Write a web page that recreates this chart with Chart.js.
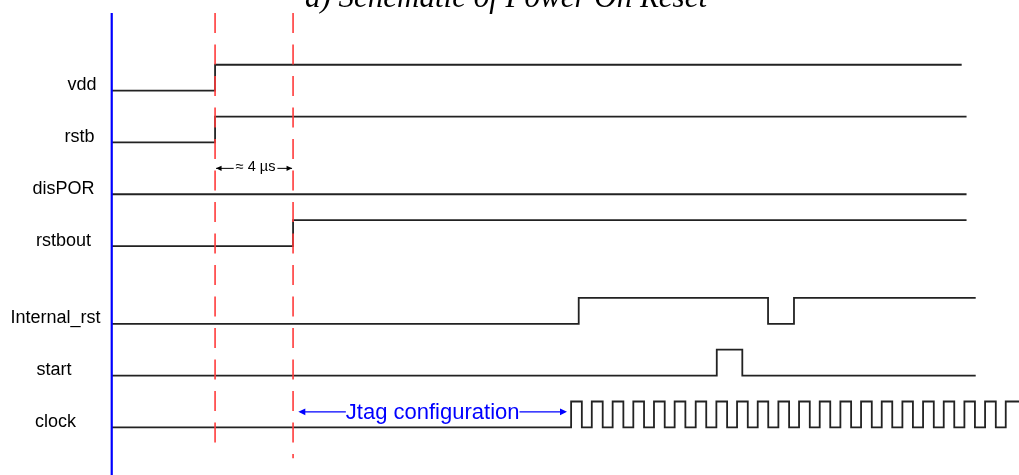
<!DOCTYPE html>
<html lang="en">
<head>
<meta charset="utf-8">
<title>Power On Reset timing</title>
<script src="https://cdn.jsdelivr.net/npm/chart.js@4.4.1/dist/chart.umd.min.js"></script>
<style>
    html, body { margin: 0; padding: 0; background: #fff; overflow: hidden; }
    .por-wrap { width: 1019px; height: 475px; }
</style>
</head>
<body>
<div class="por-wrap"><canvas id="porChart" width="1019" height="475"></canvas></div>
<script>
// time in µs (0 = vdd ramp), lanes counted up from the clock row
const chartTitle = 'a) Schematic of Power On Reset';
const signalNames = ['vdd', 'rstb', 'disPOR', 'rstbout', 'Internal_rst', 'start', 'clock'];
const signalLanes = [14, 12, 10, 8, 5, 3, 1];
const traceStart = -5.3;
const traceEnds = [38.29, 38.54, 38.54, 38.54, 39.01, 39.01, 41.6];

// toggle times, every trace starts low
const vddEdges = [0];
const rstbEdges = [0];
const disporEdges = [];
const rstboutEdges = [4];
const internalRstEdges = [18.65, 28.36, 29.69];
const startEdges = [25.73, 27.04];
const clockEdges = [
    18.26, 18.81, 19.32, 19.88, 20.39, 20.94, 21.45, 22.00, 22.51, 23.06, 23.57, 24.12,
    24.65, 25.19, 25.71, 26.26, 26.77, 27.32, 27.83, 28.37, 28.89, 29.44, 29.95, 30.50,
    31.01, 31.55, 32.07, 32.62, 33.13, 33.68, 34.19, 34.73, 35.25, 35.79, 36.31, 36.86,
    37.37, 37.91, 38.43, 38.97, 39.49, 40.04, 40.55
];

const markerTimes = [0, 4];
const markerText = '\u2248 4 \u00b5s';
const jtagSpan = [4.27, 18.05];
const jtagText = 'Jtag configuration';

const signalEdges = [vddEdges, rstbEdges, disporEdges, rstboutEdges, internalRstEdges, startEdges, clockEdges];

function stepPoints(edges, lane, end) {
    const pts = [{ x: traceStart, y: lane }];
    let level = 0;
    edges.forEach(t => {
        pts.push({ x: t, y: lane + level });
        level = 1 - level;
        pts.push({ x: t, y: lane + level });
    });
    pts.push({ x: end, y: lane + level });
    return pts;
}

function arrowHead(ctx, px, py, dir, len, half) {
    ctx.beginPath();
    ctx.moveTo(px, py);
    ctx.lineTo(px - dir * len, py - half);
    ctx.lineTo(px - dir * len, py + half);
    ctx.closePath();
    ctx.fill();
}

const porAnnotations = {
    id: 'porAnnotations',
    afterDatasetsDraw(chart) {
        const { ctx } = chart;
        const xs = chart.scales.x;
        const ys = chart.scales.y;
        ctx.save();

        // title, mostly cut off by the top edge
        ctx.fillStyle = '#000';
        ctx.font = 'italic 31px "Liberation Serif", "Times New Roman", serif';
        ctx.textAlign = 'center';
        ctx.textBaseline = 'alphabetic';
        ctx.fillText(chartTitle, 506, 7);

        // signal names
        const labelLeft = [67.5, 64.5, 32.5, 36, 10.5, 36.5, 35];
        ctx.font = '18px "Liberation Sans", Arial, sans-serif';
        ctx.textAlign = 'left';
        signalNames.forEach((name, i) => {
            ctx.fillText(name, labelLeft[i], ys.getPixelForValue(signalLanes[i]) - 0.5);
        });

        // delay between the two markers
        ctx.strokeStyle = '#000';
        ctx.lineWidth = 1;
        ctx.font = '14.5px "Liberation Sans", Arial, sans-serif';
        let py = ys.getPixelForValue(11);
        let x0 = xs.getPixelForValue(markerTimes[0]) + 1;
        let x1 = xs.getPixelForValue(markerTimes[1]) - 1;
        let w = ctx.measureText(markerText).width;
        let mid = (x0 + x1) / 2 + 1.5;
        ctx.textAlign = 'center';
        ctx.textBaseline = 'middle';
        ctx.fillText(markerText, mid, py - 1);
        ctx.beginPath();
        ctx.moveTo(x0, py); ctx.lineTo(mid - w / 2 - 2, py);
        ctx.moveTo(mid + w / 2 + 2, py); ctx.lineTo(x1, py);
        ctx.stroke();
        arrowHead(ctx, x0, py, -1, 5.5, 2.7);
        arrowHead(ctx, x1, py, 1, 5.5, 2.7);

        // jtag configuration window
        ctx.fillStyle = '#0000ff';
        ctx.strokeStyle = '#0000ff';
        ctx.lineWidth = 1.2;
        ctx.font = '22px "Liberation Sans", Arial, sans-serif';
        py = ys.getPixelForValue(1.6);
        x0 = xs.getPixelForValue(jtagSpan[0]);
        x1 = xs.getPixelForValue(jtagSpan[1]);
        w = ctx.measureText(jtagText).width;
        mid = (x0 + x1) / 2;
        ctx.textBaseline = 'alphabetic';
        ctx.fillText(jtagText, mid, py + 6.8);
        ctx.beginPath();
        ctx.moveTo(x0 + 2, py); ctx.lineTo(mid - w / 2, py);
        ctx.moveTo(mid + w / 2, py); ctx.lineTo(x1 - 2, py);
        ctx.stroke();
        arrowHead(ctx, x0, py, -1, 7, 3.4);
        arrowHead(ctx, x1, py, 1, 7, 3.4);

        ctx.restore();
    }
};

const datasets = [];

// blue time origin
datasets.push({
    data: [{ x: traceStart, y: 17 }, { x: traceStart, y: -1 }],
    borderColor: '#0000ff',
    borderWidth: 2.2
});

// red dashed markers, drawn above the traces
markerTimes.forEach((t, i) => {
    datasets.push({
        data: [{ x: t, y: 17 }, { x: t, y: i === 0 ? 0.39 : -0.19 }],
        borderColor: '#ff3b3b',
        borderWidth: 1.6,
        borderDash: [20, 11.5]
    });
});

signalNames.forEach((name, i) => {
    datasets.push({
        label: name,
        data: stepPoints(signalEdges[i], signalLanes[i], traceEnds[i]),
        borderColor: '#222',
        borderWidth: 1.8,
        borderJoinStyle: 'miter',
        borderCapStyle: 'butt'
    });
});

new Chart(document.getElementById('porChart'), {
    type: 'line',
    data: { datasets },
    options: {
        responsive: false,
        animation: false,
        events: [],
        layout: { padding: 0 },
        elements: {
            point: { radius: 0, hoverRadius: 0 },
            line: { tension: 0, fill: false }
        },
        plugins: {
            legend: { display: false },
            tooltip: { enabled: false }
        },
        scales: {
            x: { type: 'linear', min: -11.03, max: 41.23, display: false },
            y: { type: 'linear', min: -0.838, max: 17.5, display: false }
        }
    },
    plugins: [porAnnotations]
});
</script>
</body>
</html>
